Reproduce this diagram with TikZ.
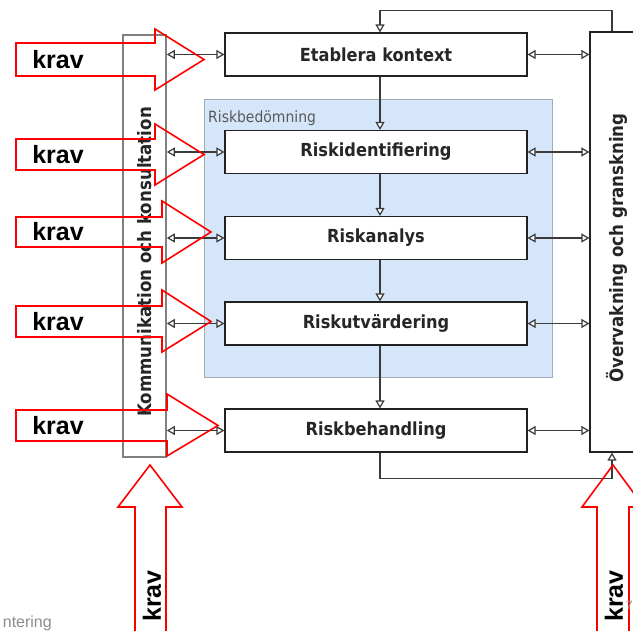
\documentclass[tikz,border=0pt]{standalone}
\usepackage{fontspec}
\setmainfont{DejaVu Sans}
\newfontfamily\lblfont{DejaVu Sans}[FakeStretch=0.9]
\newfontfamily\kravfont{Liberation Sans}
\usetikzlibrary{arrows.meta}
\definecolor{bluefill}{HTML}{D6E6FA}
\definecolor{blueline}{HTML}{A3ABB5}
\definecolor{connc}{HTML}{3A3A3A}
\definecolor{boxc}{HTML}{222222}
\definecolor{kravred}{HTML}{FF0000}
\tikzset{
  procbox/.style={draw=boxc, line width=1.2pt, fill=white, minimum width=302pt, minimum height=43pt, inner sep=0pt,
    font=\lblfont\bfseries\fontsize{18}{20}\selectfont, text=black!85},
  conn/.style={draw=connc, line width=1.2pt},
  opentip/.style={-{Triangle[fill=white, length=8pt, width=9pt]}},
  bothtip/.style={{Triangle[fill=white, length=8pt, width=9pt]}-{Triangle[fill=white, length=8pt, width=9pt]}},
  sidelabel/.style={rotate=90, font=\lblfont\bfseries\fontsize{18.5}{20}\selectfont, text=black!85},
  kravline/.style={draw=kravred, line width=1.6pt, line join=miter},
  kravtext/.style={font=\kravfont\bfseries\fontsize{25}{28}\selectfont, text=black, inner sep=0pt}
}
\begin{document}
\begin{tikzpicture}[x=1pt, y=-1pt]
\useasboundingbox (0,0) rectangle (633,631);
\begin{scope}
\clip (0,0) rectangle (633,631);
% Riskbedomning area
\draw[fill=bluefill, draw=blueline, line width=1pt] (204,100) rectangle (552,378);
\node[anchor=base west, font=\lblfont\fontsize{15.5}{17}\selectfont, text=black!65, inner sep=0pt] (rbtitle) at (208,123) {Riskbedömning};
% side boxes
\node[draw=gray, line width=1.6pt, minimum width=43pt, minimum height=422pt, inner sep=0pt] (kk) at (144.5,246) {};
\node[sidelabel] (kkt) at (145,262) {Kommunikation och konsultation};
\node[draw=boxc, line width=1.2pt, minimum width=54pt, minimum height=420pt, inner sep=0pt] (og) at (617,242) {};
\node[sidelabel] (ogt) at (617,248) {Övervakning och granskning};
% process boxes
\node[procbox] (ek) at (376,54.5) {Etablera kontext};
\node[procbox] (ri) at (376,152) {Riskidentifiering};
\node[procbox] (ra) at (376,238) {Riskanalys};
\node[procbox] (ru) at (376,323.5) {Riskutvärdering};
\node[procbox] (rb) at (376,430.5) {Riskbehandling};
% horizontal connectors
\foreach \n in {ek,ri,ra,ru,rb}{
  \draw[conn, bothtip] (kk.east |- \n.west) -- (\n.west);
  \draw[conn, bothtip] (\n.east) -- (og.west |- \n.east);
}
% vertical connectors
\draw[conn, opentip] ([xshift=4pt]ek.south) -- ([xshift=4pt]ri.north);
\draw[conn, opentip] ([xshift=4pt]ri.south) -- ([xshift=4pt]ra.north);
\draw[conn, opentip] ([xshift=4pt]ra.south) -- ([xshift=4pt]ru.north);
\draw[conn, opentip] ([xshift=4pt]ru.south) -- ([xshift=4pt]rb.north);
% feedback loops
\draw[conn, opentip] ([xshift=-5pt]og.north) -- ++(0,-21) -| ([xshift=4pt]ek.north);
\draw[conn, opentip] ([xshift=4pt]rb.south) -- ++(0,26) -| ([xshift=-5pt]og.south);
% red krav arrows
\draw[kravline] (16,43) -- (155,43) -- (155,29) -- (204,59.5) -- (155,90) -- (155,76) -- (16,76) -- cycle;
\draw[kravline] (16,139) -- (155,139) -- (155,124) -- (204,154.5) -- (155,185) -- (155,170) -- (16,170) -- cycle;
\draw[kravline] (16,217) -- (162,217) -- (162,201) -- (211,232) -- (162,263) -- (162,247) -- (16,247) -- cycle;
\draw[kravline] (16,306) -- (162,306) -- (162,290) -- (211,321.5) -- (162,352) -- (162,337) -- (16,337) -- cycle;
\draw[kravline] (16,410) -- (167,410) -- (167,394) -- (218,425.5) -- (167,456) -- (167,441) -- (16,441) -- cycle;
\draw[kravline] (135,645) -- (135,507) -- (118,507) -- (150,465) -- (182,507) -- (166,507) -- (166,645);
\draw[kravline] (597,645) -- (597,507) -- (582,507) -- (613,465) -- (644,507) -- (629,507) -- (629,645);
\node[kravtext] (k1) at (58,59.5) {krav};
\node[kravtext] (k2) at (58,154.5) {krav};
\node[kravtext] (k3) at (58,232) {krav};
\node[kravtext] (k4) at (58,321.5) {krav};
\node[kravtext] (k5) at (58,425.5) {krav};
\node[kravtext, rotate=90] (k6) at (152,596) {krav};
\node[kravtext, rotate=90] (k7) at (614,596) {krav};
% footer fragments
\node[anchor=base east, font=\kravfont\fontsize{16}{18}\selectfont, text=black!45, inner sep=0pt] (foot) at (52,627) {ntering};
\node[anchor=base west, font=\kravfont\fontsize{12}{14}\selectfont, text=black!40, inner sep=0pt] (pg) at (626,609) {7};
\end{scope}
\end{tikzpicture}
\end{document}
